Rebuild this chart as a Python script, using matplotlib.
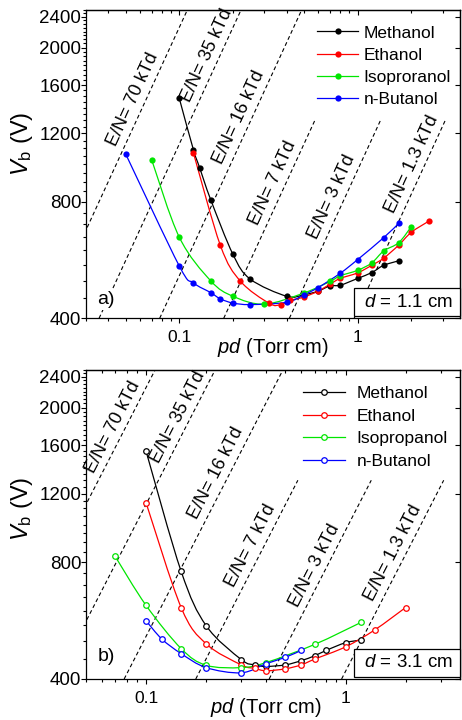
import numpy as np
import matplotlib
matplotlib.use("Agg")
import matplotlib.pyplot as plt
from matplotlib.path import Path
from matplotlib.patches import PathPatch
from matplotlib.lines import Line2D
from matplotlib.ticker import (MultipleLocator, LogLocator, NullFormatter,
                               NullLocator, FuncFormatter)

plt.rcParams['font.family'] = ['Liberation Sans', 'DejaVu Sans']
plt.rcParams['mathtext.fontset'] = 'custom'
plt.rcParams['mathtext.rm'] = 'Liberation Sans'
plt.rcParams['mathtext.it'] = 'Liberation Sans:italic'
plt.rcParams['axes.linewidth'] = 0.9

# ---- data ----
names_a = ["Methanol", "Ethanol", "Isoproranol", "n-Butanol"]
names_b = ["Methanol", "Ethanol", "Isopropanol", "n-Butanol"]
colors = ["black", "red", "#00e600", "blue"]

# a) d = 1.1 cm
meoh_a_pd = [0.10, 0.12, 0.13, 0.15, 0.20, 0.25, 0.40, 0.50, 0.60, 0.70, 0.80, 1.0, 1.2, 1.4, 1.7]
meoh_a_vb = [1480, 1090, 980, 810, 585, 505, 456, 460, 470, 485, 487, 507, 525, 548, 563]
etoh_a_pd = [0.12, 0.17, 0.22, 0.32, 0.37, 0.42, 0.50, 0.60, 0.70, 0.80, 1.0, 1.2, 1.4, 1.7, 2.0, 2.5]
etoh_a_vb = [1070, 617, 499, 437, 434, 445, 454, 470, 490, 507, 524, 548, 572, 618, 667, 712]
ipa_a_pd = [0.07, 0.10, 0.15, 0.20, 0.30, 0.50, 0.70, 0.80, 1.0, 1.2, 1.4, 1.7, 2.0]
ipa_a_vb = [1027, 648, 500, 456, 435, 465, 498, 515, 532, 556, 597, 627, 690]
bua_a_pd = [0.05, 0.10, 0.12, 0.15, 0.17, 0.20, 0.25, 0.40, 0.50, 0.60, 0.80, 1.0, 1.4, 1.7]
bua_a_vb = [1064, 546, 494, 466, 449, 438, 434, 440, 460, 480, 523, 567, 646, 703]

# b) d = 3.1 cm
meoh_b_pd = [0.10, 0.15, 0.20, 0.30, 0.35, 0.40, 0.50, 0.60, 0.70, 0.80, 1.0, 1.2]
meoh_b_vb = [1545, 757, 549, 449, 435, 431, 435, 446, 459, 474, 496, 504]
etoh_b_pd = [0.10, 0.15, 0.20, 0.30, 0.35, 0.40, 0.50, 0.60, 0.70, 1.0, 1.4, 2.0]
etoh_b_vb = [1138, 611, 493, 435, 426, 420, 425, 435, 450, 484, 535, 611]
ipa_b_pd = [0.07, 0.10, 0.15, 0.20, 0.30, 0.40, 0.70, 1.2]
ipa_b_vb = [828, 619, 479, 434, 428, 441, 491, 560]
bua_b_pd = [0.10, 0.12, 0.15, 0.20, 0.30, 0.40, 0.50, 0.60]
bua_b_vb = [565, 507, 465, 428, 415, 438, 455, 474]

# reduced field lines, E/N in kTd
en_ktd = [70, 35, 16, 7, 3, 1.3]
en_top = [2500, 2500, 2500, 1300, 1300, 1300]   # upper end of each dashed line (V)
# V = (E/N) * N * d, N at 1 Torr and 300 K
conv = 1e3 * 1e-21 * 133.322 / (1.380649e-23 * 300) * 1e-2

# where the E/N labels sit along their lines (V)
lab_v_a = [1430, 1850, 1280, 870, 800, 970]
lab_v_b = [1730, 1830, 1310, 855, 760, 820]


def spline(ax, x, y, color):
    # Catmull-Rom through the points, in log-log space, drawn as bezier path
    lx, ly = np.log10(x), np.log10(y)
    n = len(lx)
    verts = [(x[0], y[0])]
    codes = [Path.MOVETO]
    for i in range(n - 1):
        i0, i3 = max(i - 1, 0), min(i + 2, n - 1)
        c1 = (lx[i] + (lx[i + 1] - lx[i0]) / 6, ly[i] + (ly[i + 1] - ly[i0]) / 6)
        c2 = (lx[i + 1] - (lx[i3] - lx[i]) / 6, ly[i + 1] - (ly[i3] - ly[i]) / 6)
        verts += [(10 ** c1[0], 10 ** c1[1]), (10 ** c2[0], 10 ** c2[1]), (x[i + 1], y[i + 1])]
        codes += [Path.CURVE4] * 3
    ax.add_patch(PathPatch(Path(verts, codes), fill=False, edgecolor=color,
                           lw=0.9, zorder=2))


def style(ax, xlim):
    ax.set_xscale('log')
    ax.set_yscale('log')
    ax.set_xlim(*xlim)
    ax.set_ylim(400, 2500)
    ax.xaxis.set_major_locator(LogLocator(base=10))
    ax.xaxis.set_minor_locator(LogLocator(base=10, subs=np.arange(2, 10)))
    ax.xaxis.set_major_formatter(FuncFormatter(lambda v, p: f"{v:g}"))
    ax.xaxis.set_minor_formatter(NullFormatter())
    ax.yaxis.set_major_locator(MultipleLocator(400))
    ax.yaxis.set_minor_locator(MultipleLocator(50))
    ax.yaxis.set_major_formatter(FuncFormatter(lambda v, p: f"{v:.0f}"))
    ax.yaxis.set_minor_formatter(NullFormatter())
    ax.tick_params(which='both', direction='out', top=False, right=False, width=0.8)
    ax.tick_params(which='major', length=3.5)
    ax.tick_params(which='minor', length=2)
    ax.tick_params(axis='y', pad=0, labelsize=13.5)
    ax.tick_params(axis='x', pad=5, labelsize=12.5)
    top = ax.secondary_xaxis('top')
    top.xaxis.set_major_formatter(NullFormatter())
    top.xaxis.set_minor_formatter(NullFormatter())
    top.tick_params(which='both', direction='in', width=0.8)
    top.tick_params(which='major', length=3.5)
    top.tick_params(which='minor', length=2)
    right = ax.secondary_yaxis('right')
    right.yaxis.set_major_locator(MultipleLocator(400))
    right.yaxis.set_minor_locator(NullLocator())
    right.yaxis.set_major_formatter(NullFormatter())
    right.tick_params(which='major', direction='in', length=3.5, width=0.8)


def en_lines(ax, lab_v):
    for en, vtop, v in zip(en_ktd, en_top, lab_v):
        k = en * conv
        ax.plot([400 / k, vtop / k], [400, vtop], color='black', lw=0.8,
                dashes=(3.5, 2.5), zorder=1)
        x = v / k
        p1 = ax.transData.transform((x, v))
        p2 = ax.transData.transform((2 * x, 2 * v))
        th = np.arctan2(p2[1] - p1[1], p2[0] - p1[0])
        d = 8.5
        ax.annotate(f"E/N= {en:g} kTd", (x, v),
                    xytext=(-np.sin(th) * d, np.cos(th) * d),
                    textcoords='offset points', rotation=np.degrees(th),
                    rotation_mode='anchor', ha='center', va='center',
                    fontsize=13, zorder=1)


fig = plt.figure(figsize=(4.62, 7.2), dpi=100)
ax_a = fig.add_axes([86 / 462, 1 - 318.3 / 720, 374 / 462, 308.3 / 720])
ax_b = fig.add_axes([86 / 462, 1 - 679 / 720, 374 / 462, 309 / 720])

style(ax_a, (0.03, 3.75))
style(ax_b, (0.05, 3.75))

series_a = [(meoh_a_pd, meoh_a_vb), (etoh_a_pd, etoh_a_vb),
            (ipa_a_pd, ipa_a_vb), (bua_a_pd, bua_a_vb)]
series_b = [(meoh_b_pd, meoh_b_vb), (etoh_b_pd, etoh_b_vb),
            (ipa_b_pd, ipa_b_vb), (bua_b_pd, bua_b_vb)]

handles_a, handles_b = [], []
for (x, y), c, name in zip(series_a, colors, names_a):
    spline(ax_a, x, y, c)
    ax_a.plot(x, y, 'o', color=c, ms=4.5, mew=0, zorder=3)
    handles_a.append(Line2D([], [], color=c, lw=0.9, marker='o', ms=4.5,
                            mew=0, label=name))
for (x, y), c, name in zip(series_b, colors, names_b):
    spline(ax_b, x, y, c)
    ax_b.plot(x, y, 'o', mfc='white', mec=c, ms=4, mew=0.9, zorder=3)
    handles_b.append(Line2D([], [], color=c, lw=0.9, marker='o', ms=4,
                            mfc='white', mec=c, mew=0.9, label=name))

en_lines(ax_a, lab_v_a)
en_lines(ax_b, lab_v_b)

ax_a.legend(handles=handles_a, loc='upper left', bbox_to_anchor=(0.617, 0.950),
            frameon=False, fontsize=12.5, borderpad=0, borderaxespad=0,
            handlelength=2.4, handletextpad=0.3, labelspacing=0.4)
ax_b.legend(handles=handles_b, loc='upper left', bbox_to_anchor=(0.581, 0.949),
            frameon=False, fontsize=12.5, borderpad=0, borderaxespad=0,
            handlelength=2.4, handletextpad=0.66, labelspacing=0.44)

for ax, dtxt, tag, tag_y in [(ax_a, "1.1", "a)", 0.033), (ax_b, "3.1", "b)", 0.045)]:
    ax.text(0.9856, 0.025, " $d$ = " + dtxt + " cm ", transform=ax.transAxes,
            ha='right', va='bottom', fontsize=13.5, zorder=6,
            bbox=dict(boxstyle='square,pad=0.3', fc='white', ec='black', lw=0.9))
    ax.text(0.03, tag_y, tag, transform=ax.transAxes, ha='left', va='bottom',
            fontsize=14, zorder=6,
            bbox=dict(boxstyle='square,pad=0.1', fc='white', ec='none'))
    ax.set_ylabel(r"$V_\mathrm{b}$ (V)", fontsize=17)
    ax.set_xlabel(r"$pd$ (Torr cm)", fontsize=14.5)

ax_a.yaxis.set_label_coords(-0.136, 0.565)
ax_b.yaxis.set_label_coords(-0.136, 0.55)
ax_a.xaxis.set_label_coords(0.5, -0.057)
ax_b.xaxis.set_label_coords(0.481, -0.054)

fig.savefig("out.png", dpi=100)
